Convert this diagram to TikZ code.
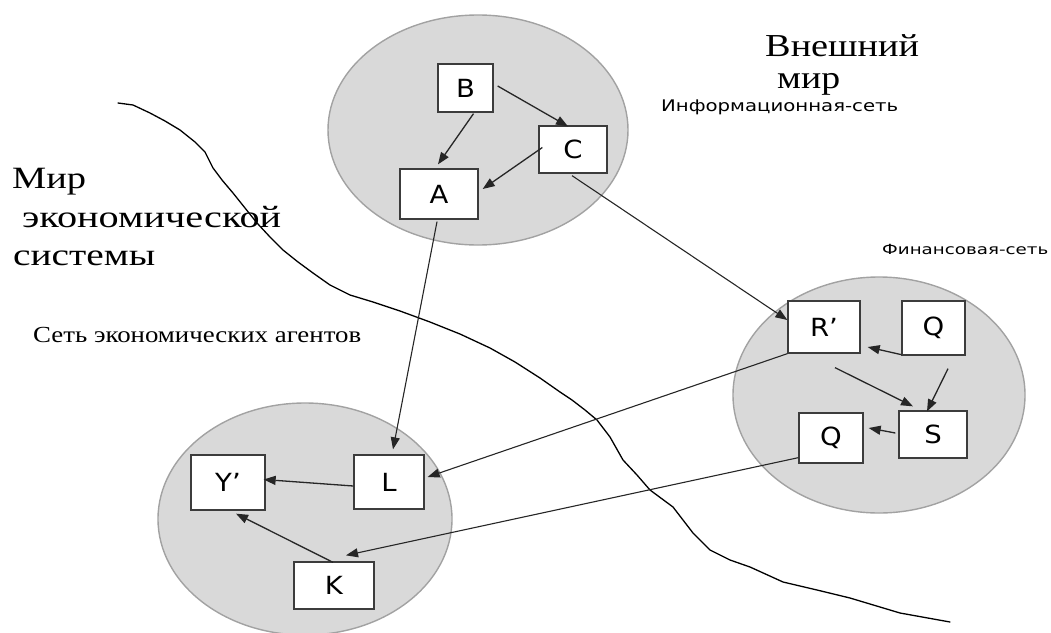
\documentclass[tikz,border=0pt]{standalone}
\usepackage{fontspec}
\usepackage{graphicx}
\setmainfont{Liberation Serif}
\newfontfamily\boxfont{DejaVu Sans}
\usetikzlibrary{arrows.meta,calc}
\definecolor{ellfill}{HTML}{D9D9D9}
\definecolor{ellborder}{HTML}{A2A2A2}
\definecolor{boxborder}{HTML}{3C3C3C}
\definecolor{linkcol}{HTML}{262626}
\newcommand{\wide}[2]{\resizebox{#1pt}{\height}{#2}}
\newcommand{\bl}[1]{\scalebox{1.1}[1]{#1}}
\begin{document}
\begin{tikzpicture}[x=1pt,y=-1pt,
  net/.style={draw=ellborder, fill=ellfill, line width=1.4pt},
  agent/.style={draw=boxborder, fill=white, line width=1.3pt, inner sep=0pt,
    font=\boxfont\fontsize{25}{25}\selectfont},
  link/.style={draw=linkcol, line width=1.3pt, -{Triangle[length=12pt,width=9pt]}},
  longlink/.style={link, line width=1.1pt},
  bigtitle/.style={anchor=base west, inner sep=0pt, font=\fontsize{31}{31}\selectfont},
  serlabel/.style={anchor=base west, inner sep=0pt, font=\fontsize{23}{23}\selectfont},
  netlabel/.style={anchor=base west, inner sep=0pt, font=\boxfont},
  border line/.style={draw=black, line width=1.3pt, line join=round, line cap=round}
]
\useasboundingbox (0,0) rectangle (1051,632);
\clip (0,0) rectangle (1051,632);

% network regions
\draw[net] (478,130) ellipse [x radius=150, y radius=115];
\draw[net] (879,395) ellipse [x radius=146, y radius=118];
\draw[net] (305,519) ellipse [x radius=147, y radius=116];

% boundary between the worlds
\draw[border line] (118,103) -- (133,105) -- (150,113) -- (165,121) -- (180,130) -- (195,142)
  -- (205,152) -- (213,168) -- (222,180) -- (233,193) -- (245,208) -- (257,223) -- (270,237)
  -- (283,250) -- (298,262) -- (313,273) -- (330,285) -- (350,295) -- (373,302) -- (400,311)
  -- (430,322) -- (460,334) -- (490,348) -- (515,362) -- (540,378) -- (560,392) -- (572,400)
  -- (585,410) -- (597,420) -- (610,437) -- (623,460) -- (637,475) -- (650,490) -- (673,507)
  -- (693,533) -- (710,550) -- (730,560) -- (750,567) -- (783,582) -- (817,590) -- (850,598)
  -- (900,613) -- (950,622);

% agents
\node[agent, minimum width=55pt, minimum height=48pt] (B) at (465.5,88) {\bl{B}};
\node[agent, minimum width=68pt, minimum height=47pt] (C) at (573,149.5) {\bl{C}\hspace{16pt}};
\node[agent, minimum width=78pt, minimum height=50pt] (A) at (439,194) {\bl{A}\hspace{30pt}};
\node[agent, minimum width=72pt, minimum height=52pt] (R) at (824,327) {\bl{R’}\hspace{16pt}};
\node[agent, minimum width=63pt, minimum height=54pt] (Q) at (933.5,328) {\bl{Q}\hspace{12pt}};
\node[agent, minimum width=68pt, minimum height=47pt] (S) at (933,434.5) {\bl{S}\hspace{21pt}};
\node[agent, minimum width=64pt, minimum height=50pt] (G) at (831,438) {\bl{Q}\hspace{10pt}};
\node[agent, minimum width=74pt, minimum height=55pt] (Y) at (228,482.5) {\bl{Y’}\hspace{13pt}};
\node[agent, minimum width=70pt, minimum height=54pt] (L) at (389,482) {\bl{L}\hspace{22pt}};
\node[agent, minimum width=80pt, minimum height=47pt] (K) at (334,585.5) {\bl{K}\hspace{22pt}};

% connectors
\draw[link] ($(B.east)+(4,-2)$) -- ($(C.north)+(-5,1)$);
\draw[link] ($(B.south)+(8,1)$) -- ($(A.north)+(-1,-4)$);
\draw[link] ($(C.west)+(4,-2)$) -- ($(A.east)+(4,-5)$);
\draw[longlink] ($(C.south)+(-1,2)$) -- ($(R.west)+(0,-7)$);
\draw[longlink] ($(A.south)+(-2,2)$) -- ($(L.north)+(4,-5)$);
\draw[longlink] (R.south west) -- ($(L.east)+(3,-5)$);
\draw[longlink] ($(G.south west)+(0,-6)$) -- ($(K.north)+(12,-6)$);
\draw[link] ($(L.west)+(0,4)$) -- ($(Y.east)+(-2,-3)$);
\draw[link] ($(K.north)+(-1,1)$) -- ($(Y.south)+(8,3)$);
\draw[link] ($(Q.south west)+(0,-1)$) -- ($(R.east)+(7,20)$);
\draw[link] ($(R.south)+(11,14)$) -- ($(S.north)+(-20,-4)$);
\draw[link] ($(Q.south)+(14.5,13)$) -- ($(S.north)+(-6,1)$);
\draw[link] ($(S.west)+(-3,-1.5)$) -- ($(G.east)+(5,-10)$);

% labels
\node[bigtitle, font=\fontsize{32}{32}\selectfont] (outer1) at (765,56) {\wide{154}{Внешний}};
\node[bigtitle, font=\fontsize{32}{32}\selectfont] (outer2) at (777,88) {\wide{63}{мир}};
\node[netlabel, font=\boxfont\fontsize{16}{16}\selectfont] (infonet) at (661,111) {\wide{237}{Информационная-сеть}};
\node[bigtitle] (econ1) at (12,188) {\wide{74}{Мир}};
\node[bigtitle] (econ2) at (22,227) {\wide{259}{экономической}};
\node[bigtitle] (econ3) at (13,265) {\wide{142}{системы}};
\node[serlabel] (agentsnet) at (33,342) {\wide{328}{Сеть экономических агентов}};
\node[netlabel, font=\boxfont\fontsize{14}{14}\selectfont] (finnet) at (882,254) {\wide{166}{Финансовая-сеть}};
\end{tikzpicture}
\end{document}
